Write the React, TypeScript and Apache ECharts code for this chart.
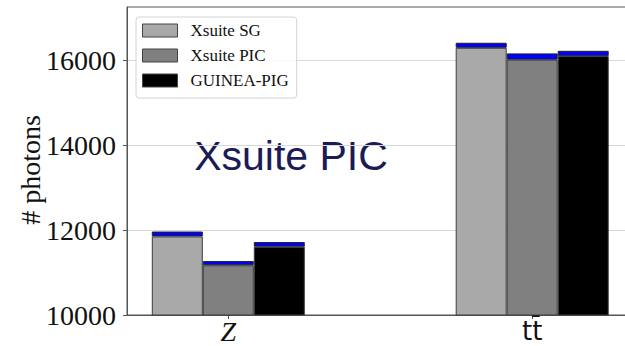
import React, { useEffect, useRef } from 'react';
import * as echarts from 'echarts';

// Category labels shown on the x axis
const categoryLabels = ['Z', 'tt\u0304'];
// Evenly spaced axis slots (empty slots give the spacing of the original plot)
const axisSlots = ['', 'Z', '', '', 'tt\u0304', ''];

// Series names (legend)
const seriesNames = ['Xsuite SG', 'Xsuite PIC', 'GUINEA-PIG'];

// Base bar values (# photons) per category [Z, tt̄]
const sgBase = [11850, 16290];
const picBase = [11170, 16010];
const gpBase = [11607, 16094];

// Blue top segment per category [Z, tt̄]
const sgCap = [115, 118];
const picCap = [100, 148];
const gpCap = [110, 125];

// Y tick labels
const yTicks = [10000, 12000, 14000, 16000];

const baseColors = ['#a9a9a9', '#808080', '#000000'];
const capColor = '#0000ff';

function toSlots(vals: number[]) {
  return axisSlots.map((s) => {
    const k = s === '' ? -1 : categoryLabels.indexOf(s);
    return k >= 0 ? vals[k] : '-';
  });
}

export default function App() {
  const ref = useRef<HTMLDivElement>(null);

  useEffect(() => {
    if (!ref.current) return;
    const chart = echarts.init(ref.current, undefined, { renderer: 'svg' });

    const bases = [sgBase, picBase, gpBase];
    const caps = [sgCap, picCap, gpCap];
    const series: any[] = [];
    bases.forEach((b, i) => {
      series.push({
        type: 'bar',
        name: seriesNames[i],
        stack: 's' + i,
        barWidth: 51,
        barGap: '0%',
        data: toSlots(b),
        itemStyle: { color: baseColors[i], borderColor: '#3c3c3c', borderWidth: 1 },
      });
      series.push({
        type: 'bar',
        name: seriesNames[i] + ' spread',
        stack: 's' + i,
        barWidth: 51,
        barGap: '0%',
        data: toSlots(caps[i]),
        itemStyle: { color: capColor, borderColor: '#222', borderWidth: 1 },
      });
    });

    const option: any = {
      animation: false,
      grid: {
        left: 127,
        top: 7,
        width: 506.5,
        bottom: 31,
        show: true,
        borderColor: '#555',
        borderWidth: 1,
        outerBoundsMode: 'none',
        containLabel: false,
      },
      legend: {
        data: seriesNames,
        orient: 'vertical',
        left: 136,
        top: 17,
        icon: 'rect',
        itemWidth: 35,
        itemHeight: 13,
        itemGap: 8,
        padding: [5, 8, 9, 6],
        backgroundColor: 'rgba(255,255,255,0.85)',
        borderColor: '#d4d4d4',
        borderWidth: 1,
        borderRadius: 3,
        itemStyle: { borderColor: '#444', borderWidth: 1 },
        textStyle: {
          fontFamily: 'Liberation Serif',
          fontSize: 17,
          color: '#111',
          padding: [0, 0, 0, 8],
        },
      },
      xAxis: {
        type: 'category',
        data: axisSlots,
        boundaryGap: false,
        axisLine: { show: true, onZero: false, lineStyle: { color: '#555' } },
        splitLine: { show: false },
        axisTick: {
          show: true,
          interval: (_i: number, v: string) => v !== '',
          length: 4,
          lineStyle: { color: '#555' },
        },
        axisLabel: {
          interval: (_i: number, v: string) => v !== '',
          margin: 3,
          color: '#111',
          formatter: (v: string) => (v === categoryLabels[0] ? '{z|' + v + '}' : '{t|' + v + '}'),
          rich: {
            z: { fontFamily: 'Liberation Serif', fontStyle: 'italic', fontSize: 28, lineHeight: 26, color: '#111' },
            t: { fontFamily: 'DejaVu Sans', fontSize: 26, lineHeight: 26, color: '#111' },
          },
        },
      },
      yAxis: {
        type: 'value',
        min: yTicks[0],
        max: 17250,
        interval: 2000,
        axisLine: { show: true, onZero: false, lineStyle: { color: '#555' } },
        axisTick: { show: true, length: 4, lineStyle: { color: '#555' } },
        axisLabel: {
          fontFamily: 'Liberation Serif',
          fontSize: 28,
          color: '#111',
          margin: 11,
          showMaxLabel: false,
          formatter: (v: number) => (yTicks.indexOf(v) >= 0 ? String(v) : ''),
        },
        splitLine: { show: true, showMaxLine: false, lineStyle: { color: '#d8d8d8', width: 1 } },
      },
      graphic: [
        {
          type: 'text',
          x: 291,
          y: 156,
          style: {
            text: 'Xsuite PIC',
            fontFamily: 'Liberation Sans',
            fontSize: 41,
            fill: '#1b1b55',
            align: 'center',
            verticalAlign: 'middle',
          },
        },
        {
          type: 'text',
          x: 30,
          y: 170,
          rotation: Math.PI / 2,
          style: {
            text: '# photons',
            fontFamily: 'Liberation Serif',
            fontSize: 28,
            fill: '#111',
            align: 'center',
            verticalAlign: 'middle',
          },
        },
      ],
      series,
    };

    chart.setOption(option);
    return () => chart.dispose();
  }, []);

  return (
    <div
      ref={ref}
      style={{ position: 'absolute', left: 0, top: 0, width: 625, height: 346 }}
    />
  );
}
